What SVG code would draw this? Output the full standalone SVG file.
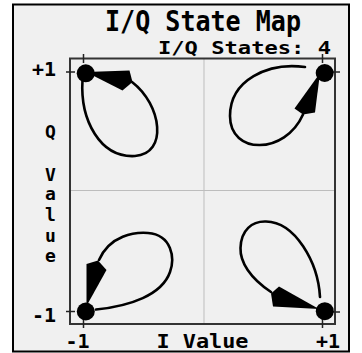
<svg xmlns="http://www.w3.org/2000/svg" width="362" height="353" viewBox="0 0 362 353">
<style>
.t{font-family:"DejaVu Sans Mono","Liberation Mono",monospace;font-weight:bold;fill:#000}
.ax{font-size:20px}
.tick{stroke:#222;stroke-width:1.5}
.grid{stroke:#bdbdbd;stroke-width:1}
.loop{fill:none;stroke:#000;stroke-width:2.6;stroke-linecap:round}
.head{fill:#000}
.dot{fill:#000}
</style>
<rect x="0" y="0" width="362" height="353" fill="#fff"/>
<rect x="13" y="4.5" width="336" height="347" fill="#f0f0f0" stroke="#000" stroke-width="2"/>
<g id="title">
<text class="t" x="105" y="31" font-size="29" textLength="196" lengthAdjust="spacingAndGlyphs">I/Q State Map</text>
<text class="t" x="158" y="53.5" font-size="18" textLength="173" lengthAdjust="spacingAndGlyphs">I/Q States: 4</text>
</g>
<g id="plot">
<line class="grid" x1="204" y1="59" x2="204" y2="324"/>
<line class="grid" x1="70" y1="190.5" x2="335" y2="190.5"/>
<rect x="70" y="58.5" width="265" height="265.5" fill="none" stroke="#333" stroke-width="2"/>
<line class="tick" x1="83.5" y1="54" x2="83.5" y2="63"/>
<line class="tick" x1="322.5" y1="54" x2="322.5" y2="63"/>
<line class="tick" x1="83.5" y1="319" x2="83.5" y2="328"/>
<line class="tick" x1="322.5" y1="319" x2="322.5" y2="328"/>
<line class="tick" x1="66" y1="72" x2="75" y2="72"/>
<line class="tick" x1="66" y1="311.5" x2="75" y2="311.5"/>
<line class="tick" x1="330" y1="72" x2="340" y2="72"/>
<line class="tick" x1="330" y1="312" x2="340" y2="312"/>
</g>
<g id="labels">
<text class="t ax" x="56" y="76" text-anchor="end">+1</text>
<text class="t ax" x="56" y="322" text-anchor="end">-1</text>
<text class="t ax" x="77.5" y="348" text-anchor="middle">-1</text>
<text class="t ax" x="328" y="348" text-anchor="middle">+1</text>
<text class="t ax" x="202.5" y="348" text-anchor="middle" textLength="92" lengthAdjust="spacingAndGlyphs">I Value</text>
<text class="t" font-size="18" text-anchor="middle"><tspan x="50.5" y="137.5">Q</tspan><tspan x="50.5" y="180.5">V</tspan><tspan x="50.5" y="200">a</tspan><tspan x="50.5" y="221">l</tspan><tspan x="50.5" y="241.5">u</tspan><tspan x="50.5" y="262">e</tspan></text>
</g>
<g id="connectors">
<path class="loop" d="M82.5 80 C80 120 100 158 135 156 C168 154 162 105 132 82"/>
<polygon class="head" points="86,72 129.5,70.5 132.5,82 122.5,90.5"/>
<path class="loop" d="M305 67 C268 62 230 80 230 116 C230 155 285 155 303 114.5"/>
<polygon class="head" points="320,73 294.5,108.5 303,114.5 315,112.5"/>
<path class="loop" d="M99 260 C110 235 135 232 148 233 C172 235 175 258 170 272 C162 295 130 306 96 309.5"/>
<polygon class="head" points="86.5,306 86.5,264 98,260.5 106.5,270"/>
<path class="loop" d="M271 292 C250 278 240 262 240.5 248 C241 230 252 221 266 221.5 C295 222 318 262 320 297"/>
<polygon class="head" points="271,293.5 279,286.5 319,309 273,306.5"/>
</g>
<g id="state-1-1"><circle class="dot" cx="85.7" cy="73.3" r="9"/></g>
<g id="state1-1"><circle class="dot" cx="324.7" cy="73" r="9"/></g>
<g id="state-1m1"><circle class="dot" cx="85.8" cy="311.5" r="9"/></g>
<g id="state1m1"><circle class="dot" cx="324.8" cy="311.2" r="9"/></g>
</svg>
